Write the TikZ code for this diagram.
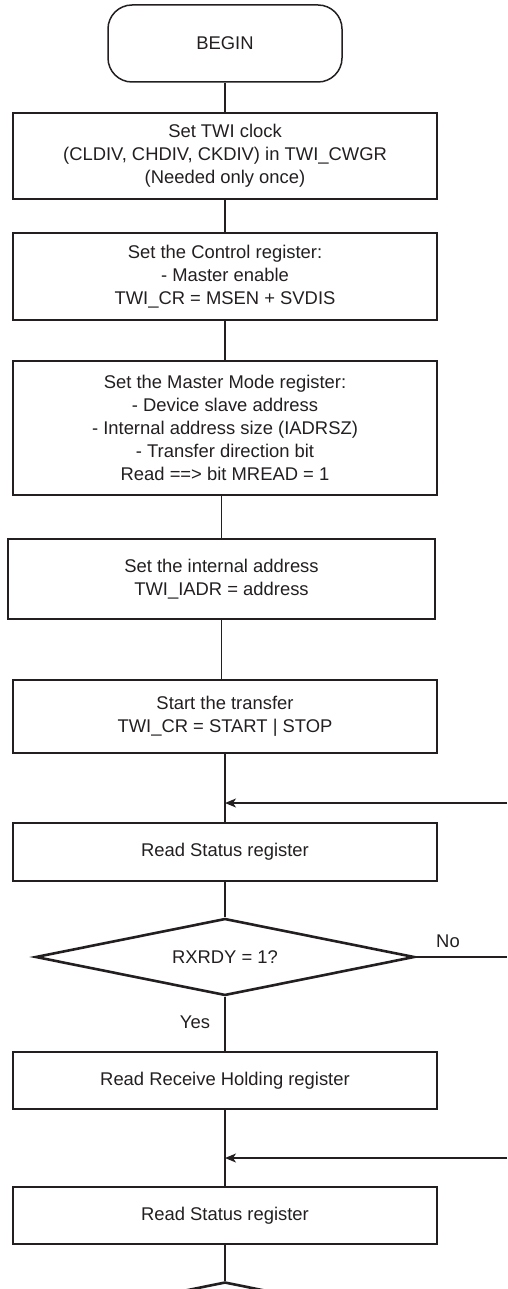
\documentclass[tikz,border=0pt]{standalone}
\usepackage{fontspec}
\setmainfont{Liberation Sans}
\usetikzlibrary{shapes.geometric,arrows.meta}
\definecolor{ink}{HTML}{231F20}
\tikzset{
  box/.style={draw=ink, line width=2.6pt, minimum width=424pt, align=center, inner sep=0pt},
  test/.style={diamond, aspect=4.9, draw=ink, line width=2.6pt, minimum width=379pt, minimum height=77pt, inner sep=0pt},
  link/.style={draw=ink, line width=1.3pt},
  back/.style={link, -{Stealth[length=11pt,width=9pt,inset=3pt]}}
}
\begin{document}
\begin{tikzpicture}[x=1pt, y=-1pt, font=\fontsize{18.4}{22.8}\selectfont, text=ink]
        \useasboundingbox (0,0) rectangle (507,1289);
        \clip (0,0) rectangle (507,1289);
        \node [draw=ink, line width=1.5pt, rounded corners=24pt, minimum width=234pt, minimum height=77pt] (begin) at (225,43.5) {BEGIN};
        \node [box, minimum height=86pt] (clock) at (225,156) {Set TWI clock\\(CLDIV, CHDIV, CKDIV) in TWI\_CWGR\\(Needed only once)};
        \node [box, minimum height=87pt] (ctrl) at (225,276.5) {Set the Control register:\\- Master enable\\TWI\_CR = MSEN + SVDIS};
        \node [box, minimum height=134pt] (mode) at (225,428) {Set the Master Mode register:\\- Device slave address\\- Internal address size (IADRSZ)\\- Transfer direction bit\\Read ==> bit MREAD = 1};
        \node [box, minimum width=427pt, minimum height=80pt] (iadr) at (221.5,579) {Set the internal address\\TWI\_IADR = address};
        \node [box, minimum height=73pt] (start) at (225,716.5) {Start the transfer\\TWI\_CR = START | STOP};
        \node [box, minimum height=58pt] (status) at (225,852) {Read Status register};
        \node [test] (ready) at (225,957) {RXRDY = 1?};
        \node [box, minimum height=57pt] (rhr) at (225,1080.5) {Read Receive Holding register};
        \node [box, minimum height=57pt] (status2) at (225,1215.5) {Read Status register};
        \node [test] (ready2) at (225,1320.5) {};
        % loop ends
        \coordinate (loopa) at (507,803);
        \coordinate (noend) at (507,957);
        \coordinate (loopb) at (507,1158);
        \draw [link] (begin) -- (clock);
        \draw [link] (clock) -- (ctrl);
        \draw [link] (ctrl) -- (mode);
        \draw [link] (iadr.north |- mode.south) -- (iadr.north);
        \draw [link] (iadr.south) -- (iadr.south |- start.north);
        \draw [link] (start) -- (status);
        \draw [back] (loopa) -- (loopa -| status.north);
        \draw [link] (status) -- (ready);
        \draw [link] (ready.east) -- (noend);
        \node (no) at (448,941) {No};
        \draw [link] (ready.south) -- (rhr.north);
        \node (yes) at (195,1022) {Yes};
        \draw [link] (rhr) -- (status2);
        \draw [back] (loopb) -- (loopb -| status2.north);
        \draw [link] (status2.south) -- (ready2.north);
\end{tikzpicture}
\end{document}
